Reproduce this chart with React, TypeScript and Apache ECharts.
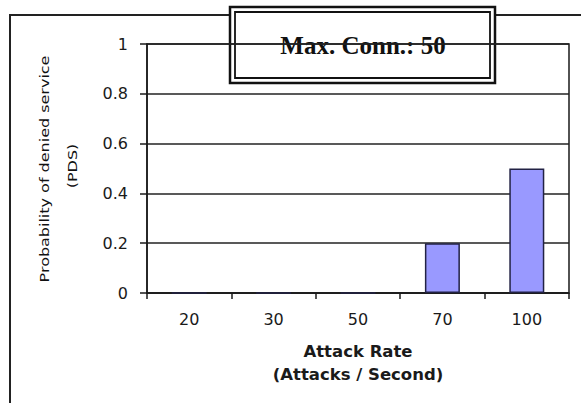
import React, { useEffect, useRef } from "react";
import * as echarts from "echarts";

const categories = ["20", "30", "50", "70", "100"];
const pdsValues = [0, 0, 0, 0.2, 0.5];
const yTicks = { min: 0, max: 1, interval: 0.2 };
const titleText = "Max. Conn.: 50";
const yNameLines = ["Probability of denied service", "(PDS)"];
const xName = "Attack Rate\n(Attacks / Second)";

export default function App() {
  const ref = useRef<HTMLDivElement>(null);
  useEffect(() => {
    if (!ref.current) return;
    const chart = echarts.init(ref.current, null, { renderer: "svg" });
    const dark = "#1a1a1a";
    chart.setOption({
      animation: false,
      backgroundColor: "#ffffff",
      grid: {
        left: 147,
        top: 44,
        right: 12,
        bottom: 110,
        show: true,
        borderColor: dark,
        borderWidth: 1.5,
        backgroundColor: "transparent",
      },
      xAxis: {
        type: "category",
        data: categories,
        axisLine: { lineStyle: { color: dark, width: 1.5 } },
        axisTick: { show: true, length: 6, lineStyle: { color: dark, width: 1.5 } },
        axisLabel: {
          color: dark,
          fontFamily: "DejaVu Sans",
          fontSize: 16,
          margin: 18,
        },
        name: xName,
        nameLocation: "middle",
        nameGap: 47,
        nameTextStyle: {
          color: dark,
          fontFamily: "DejaVu Sans",
          fontWeight: "bold",
          fontSize: 16.5,
          lineHeight: 23,
        },
      },
      yAxis: {
        type: "value",
        min: yTicks.min,
        max: yTicks.max,
        interval: yTicks.interval,
        axisLine: { show: true, lineStyle: { color: dark, width: 1.5 } },
        axisTick: { show: true, length: 7, lineStyle: { color: dark, width: 1.5 } },
        axisLabel: {
          color: dark,
          fontFamily: "DejaVu Sans",
          fontSize: 16,
          margin: 19,
        },
        splitLine: { show: true, lineStyle: { color: "#222222", width: 1.5 } },
      },
      series: [
        {
          type: "bar",
          data: pdsValues,
          barWidth: 35,
          itemStyle: { color: "#9999ff", borderColor: "#222244", borderWidth: 1.5 },
          z: 1,
        },
      ],
      graphic: [
        {
          type: "polyline",
          shape: { points: [[10, 420], [10, 15], [230, 15]] },
          style: { fill: "none", stroke: "#222222", lineWidth: 2 },
          silent: true,
        },
        {
          type: "line",
          shape: { x1: 495, y1: 15, x2: 600, y2: 15 },
          style: { stroke: "#222222", lineWidth: 2 },
          silent: true,
        },
        {
          type: "rect",
          shape: { x: 230, y: 7, width: 265, height: 76 },
          style: { fill: "none", stroke: "#111111", lineWidth: 2.5 },
          silent: true,
        },
        {
          type: "rect",
          shape: { x: 235, y: 12, width: 255, height: 66 },
          style: { fill: "none", stroke: "#111111", lineWidth: 1.8 },
          silent: true,
        },
        {
          type: "text",
          x: 363,
          y: 45,
          style: {
            text: titleText,
            fill: "#111111",
            font: "bold 25px 'Liberation Serif', 'Times New Roman', serif",
            align: "center",
            verticalAlign: "middle",
          },
          silent: true,
        },
        {
          type: "text",
          x: 44,
          y: 169,
          rotation: Math.PI / 2,
          scaleX: 1.23,
          style: {
            text: yNameLines[0],
            fill: "#111111",
            font: "13px 'DejaVu Sans'",
            align: "center",
            verticalAlign: "middle",
          },
          silent: true,
        },
        {
          type: "text",
          x: 72,
          y: 166,
          rotation: Math.PI / 2,
          scaleX: 1.23,
          style: {
            text: yNameLines[1],
            fill: "#111111",
            font: "13px 'DejaVu Sans'",
            align: "center",
            verticalAlign: "middle",
          },
          silent: true,
        },
      ],
    });
    return () => chart.dispose();
  }, []);
  return (
    <div
      ref={ref}
      style={{ position: "fixed", left: 0, top: 0, width: 581, height: 403, background: "#fff" }}
    />
  );
}
